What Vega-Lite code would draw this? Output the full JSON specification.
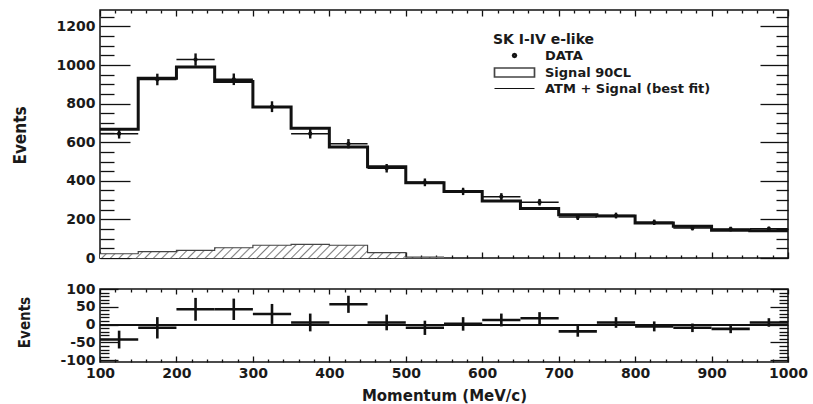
{
  "$schema": "https://vega.github.io/schema/vega-lite/v6.json",
  "background": "white",
  "padding": {"left": 10, "top": 8, "right": 0, "bottom": 0},
  "bounds": "flush",
  "spacing": 31,
  "config": {
    "view": {"stroke": "#111", "strokeWidth": 1.5},
    "axis": {
      "domain": false,
      "grid": false,
      "labelFont": "DejaVu Sans",
      "labelFontWeight": "bold",
      "labelFontSize": 14,
      "labelColor": "#1a1a1a",
      "labelFlush": false,
      "labelOverlap": false,
      "tickColor": "#111",
      "tickWidth": 1.3,
      "titleColor": "#1a1a1a"
    }
  },
  "datasets": {
    "bins": [
      {"lo": 100, "hi": 150, "c": 125, "n": 644, "err": 25, "mc": 667, "sig": 22, "res": -42},
      {"lo": 150, "hi": 200, "c": 175, "n": 925, "err": 30, "mc": 931, "sig": 33, "res": -9},
      {"lo": 200, "hi": 250, "c": 225, "n": 1028, "err": 32, "mc": 990, "sig": 40, "res": 43},
      {"lo": 250, "hi": 300, "c": 275, "n": 926, "err": 30, "mc": 914, "sig": 53, "res": 43},
      {"lo": 300, "hi": 350, "c": 325, "n": 784, "err": 28, "mc": 782, "sig": 66, "res": 30},
      {"lo": 350, "hi": 400, "c": 375, "n": 644, "err": 25, "mc": 672, "sig": 71, "res": 6},
      {"lo": 400, "hi": 450, "c": 425, "n": 592, "err": 24, "mc": 575, "sig": 66, "res": 57},
      {"lo": 450, "hi": 500, "c": 475, "n": 465, "err": 22, "mc": 473, "sig": 28, "res": 6},
      {"lo": 500, "hi": 550, "c": 525, "n": 392, "err": 20, "mc": 390, "sig": 5, "res": -9},
      {"lo": 550, "hi": 600, "c": 575, "n": 345, "err": 19, "mc": 344, "sig": 0, "res": 2},
      {"lo": 600, "hi": 650, "c": 625, "n": 318, "err": 18, "mc": 295, "sig": 0, "res": 13},
      {"lo": 650, "hi": 700, "c": 675, "n": 289, "err": 17, "mc": 257, "sig": 0, "res": 18},
      {"lo": 700, "hi": 750, "c": 725, "n": 212, "err": 15, "mc": 224, "sig": 0, "res": -19},
      {"lo": 750, "hi": 800, "c": 775, "n": 220, "err": 15, "mc": 218, "sig": 0, "res": 6},
      {"lo": 800, "hi": 850, "c": 825, "n": 185, "err": 14, "mc": 181, "sig": 0, "res": -5},
      {"lo": 850, "hi": 900, "c": 875, "n": 155, "err": 12, "mc": 164, "sig": 0, "res": -9},
      {"lo": 900, "hi": 950, "c": 925, "n": 150, "err": 12, "mc": 144, "sig": 0, "res": -12},
      {"lo": 950, "hi": 1000, "c": 975, "n": 151, "err": 12, "mc": 141, "sig": 0, "res": 6}
    ],
    "series": [
      {"series": "DATA"},
      {"series": "Signal 90CL"},
      {"series": "ATM + Signal (best fit)"}
    ]
  },
  "vconcat": [
    {
      "width": 688,
      "height": 248,
      "data": {"name": "bins"},
      "layer": [
        {
          "transform": [{"filter": "datum.sig > 0"}, {"fold": ["lo", "hi"], "as": ["edge", "x"]}],
          "mark": {
            "type": "area",
            "fill": {
              "gradient": "linear", "x1": 0, "y1": 0, "x2": 1, "y2": 0.04,
              "stops": [
                {"offset": 0, "color": "#fff"}, {"offset": 0.0163, "color": "#fff"}, {"offset": 0.0205, "color": "#808080"},
                {"offset": 0.025, "color": "#fff"}, {"offset": 0.0413, "color": "#fff"}, {"offset": 0.0455, "color": "#808080"},
                {"offset": 0.05, "color": "#fff"}, {"offset": 0.0663, "color": "#fff"}, {"offset": 0.0705, "color": "#808080"},
                {"offset": 0.075, "color": "#fff"}, {"offset": 0.0913, "color": "#fff"}, {"offset": 0.0955, "color": "#808080"},
                {"offset": 0.1, "color": "#fff"}, {"offset": 0.1163, "color": "#fff"}, {"offset": 0.1205, "color": "#808080"},
                {"offset": 0.125, "color": "#fff"}, {"offset": 0.1413, "color": "#fff"}, {"offset": 0.1455, "color": "#808080"},
                {"offset": 0.15, "color": "#fff"}, {"offset": 0.1663, "color": "#fff"}, {"offset": 0.1705, "color": "#808080"},
                {"offset": 0.175, "color": "#fff"}, {"offset": 0.1913, "color": "#fff"}, {"offset": 0.1955, "color": "#808080"},
                {"offset": 0.2, "color": "#fff"}, {"offset": 0.2163, "color": "#fff"}, {"offset": 0.2205, "color": "#808080"},
                {"offset": 0.225, "color": "#fff"}, {"offset": 0.2413, "color": "#fff"}, {"offset": 0.2455, "color": "#808080"},
                {"offset": 0.25, "color": "#fff"}, {"offset": 0.2663, "color": "#fff"}, {"offset": 0.2705, "color": "#808080"},
                {"offset": 0.275, "color": "#fff"}, {"offset": 0.2913, "color": "#fff"}, {"offset": 0.2955, "color": "#808080"},
                {"offset": 0.3, "color": "#fff"}, {"offset": 0.3163, "color": "#fff"}, {"offset": 0.3205, "color": "#808080"},
                {"offset": 0.325, "color": "#fff"}, {"offset": 0.3413, "color": "#fff"}, {"offset": 0.3455, "color": "#808080"},
                {"offset": 0.35, "color": "#fff"}, {"offset": 0.3663, "color": "#fff"}, {"offset": 0.3705, "color": "#808080"},
                {"offset": 0.375, "color": "#fff"}, {"offset": 0.3913, "color": "#fff"}, {"offset": 0.3955, "color": "#808080"},
                {"offset": 0.4, "color": "#fff"}, {"offset": 0.4163, "color": "#fff"}, {"offset": 0.4205, "color": "#808080"},
                {"offset": 0.425, "color": "#fff"}, {"offset": 0.4413, "color": "#fff"}, {"offset": 0.4455, "color": "#808080"},
                {"offset": 0.45, "color": "#fff"}, {"offset": 0.4663, "color": "#fff"}, {"offset": 0.4705, "color": "#808080"},
                {"offset": 0.475, "color": "#fff"}, {"offset": 0.4913, "color": "#fff"}, {"offset": 0.4955, "color": "#808080"},
                {"offset": 0.5, "color": "#fff"}, {"offset": 0.5163, "color": "#fff"}, {"offset": 0.5205, "color": "#808080"},
                {"offset": 0.525, "color": "#fff"}, {"offset": 0.5413, "color": "#fff"}, {"offset": 0.5455, "color": "#808080"},
                {"offset": 0.55, "color": "#fff"}, {"offset": 0.5663, "color": "#fff"}, {"offset": 0.5705, "color": "#808080"},
                {"offset": 0.575, "color": "#fff"}, {"offset": 0.5913, "color": "#fff"}, {"offset": 0.5955, "color": "#808080"},
                {"offset": 0.6, "color": "#fff"}, {"offset": 0.6163, "color": "#fff"}, {"offset": 0.6205, "color": "#808080"},
                {"offset": 0.625, "color": "#fff"}, {"offset": 0.6413, "color": "#fff"}, {"offset": 0.6455, "color": "#808080"},
                {"offset": 0.65, "color": "#fff"}, {"offset": 0.6663, "color": "#fff"}, {"offset": 0.6705, "color": "#808080"},
                {"offset": 0.675, "color": "#fff"}, {"offset": 0.6913, "color": "#fff"}, {"offset": 0.6955, "color": "#808080"},
                {"offset": 0.7, "color": "#fff"}, {"offset": 0.7163, "color": "#fff"}, {"offset": 0.7205, "color": "#808080"},
                {"offset": 0.725, "color": "#fff"}, {"offset": 0.7413, "color": "#fff"}, {"offset": 0.7455, "color": "#808080"},
                {"offset": 0.75, "color": "#fff"}, {"offset": 0.7663, "color": "#fff"}, {"offset": 0.7705, "color": "#808080"},
                {"offset": 0.775, "color": "#fff"}, {"offset": 0.7913, "color": "#fff"}, {"offset": 0.7955, "color": "#808080"},
                {"offset": 0.8, "color": "#fff"}, {"offset": 0.8163, "color": "#fff"}, {"offset": 0.8205, "color": "#808080"},
                {"offset": 0.825, "color": "#fff"}, {"offset": 0.8413, "color": "#fff"}, {"offset": 0.8455, "color": "#808080"},
                {"offset": 0.85, "color": "#fff"}, {"offset": 0.8663, "color": "#fff"}, {"offset": 0.8705, "color": "#808080"},
                {"offset": 0.875, "color": "#fff"}, {"offset": 0.8913, "color": "#fff"}, {"offset": 0.8955, "color": "#808080"},
                {"offset": 0.9, "color": "#fff"}, {"offset": 0.9163, "color": "#fff"}, {"offset": 0.9205, "color": "#808080"},
                {"offset": 0.925, "color": "#fff"}, {"offset": 0.9413, "color": "#fff"}, {"offset": 0.9455, "color": "#808080"},
                {"offset": 0.95, "color": "#fff"}, {"offset": 0.9663, "color": "#fff"}, {"offset": 0.9705, "color": "#808080"},
                {"offset": 0.975, "color": "#fff"}, {"offset": 0.9913, "color": "#fff"}, {"offset": 0.9955, "color": "#808080"},
                {"offset": 1, "color": "#fff"}
              ]
            }
          },
          "encoding": {
            "x": {
              "field": "x", "type": "quantitative",
              "scale": {"domain": [100, 1000], "nice": false, "zero": false},
              "axis": {
                "orient": "bottom", "title": null, "labels": false,
                "values": [100,120,140,160,180,200,220,240,260,280,300,320,340,360,380,400,420,440,460,480,500,520,540,560,580,600,620,640,660,680,700,720,740,760,780,800,820,840,860,880,900,920,940,960,980,1000],
                "tickSize": {"condition": {"test": "datum.value % 100 === 0", "value": -6}, "value": -3}
              }
            },
            "y": {
              "field": "sig", "type": "quantitative", "stack": null,
              "scale": {"domain": [0, 1285], "nice": false, "zero": false},
              "axis": {
                "orient": "left",
                "values": [0,50,100,150,200,250,300,350,400,450,500,550,600,650,700,750,800,850,900,950,1000,1050,1100,1150,1200,1250],
                "labelExpr": "datum.value % 200 === 0 ? datum.label : ''",
                "format": "d",
                "tickSize": {"condition": {"test": "datum.value % 200 === 0", "value": -30}, "value": -14},
                "labelPadding": 35,
                "title": "Events",
                "titleFont": "Liberation Sans Narrow, DejaVu Sans Condensed, Liberation Sans",
                "titleFontSize": 17,
                "titleFontWeight": "bold",
                "titleAngle": 270,
                "titleX": -80,
                "titleY": 125,
                "titleAlign": "center",
                "titleBaseline": "middle"
              }
            },
            "order": [{"field": "c", "type": "quantitative"}, {"field": "edge", "type": "ordinal", "sort": "descending"}]
          }
        },
        {
          "transform": [{"filter": "datum.sig > 0"}, {"fold": ["lo", "hi"], "as": ["edge", "x"]}],
          "mark": {"type": "line", "stroke": "#444", "strokeWidth": 1.2, "strokeJoin": "miter"},
          "encoding": {
            "x": {"field": "x", "type": "quantitative", "axis": null},
            "y": {"field": "sig", "type": "quantitative", "axis": null},
            "order": [{"field": "c", "type": "quantitative"}, {"field": "edge", "type": "ordinal", "sort": "descending"}]
          }
        },
        {
          "transform": [{"fold": ["lo", "hi"], "as": ["edge", "x"]}],
          "mark": {"type": "line", "stroke": "#111", "strokeWidth": 3, "strokeJoin": "miter"},
          "encoding": {
            "x": {
              "field": "x", "type": "quantitative",
              "axis": {
                "orient": "top", "title": null, "labels": false,
                "values": [100,120,140,160,180,200,220,240,260,280,300,320,340,360,380,400,420,440,460,480,500,520,540,560,580,600,620,640,660,680,700,720,740,760,780,800,820,840,860,880,900,920,940,960,980,1000],
                "tickSize": {"condition": {"test": "datum.value % 100 === 0", "value": -6}, "value": -3}
              }
            },
            "y": {
              "field": "mc", "type": "quantitative",
              "axis": {
                "orient": "right", "title": null, "labels": false,
                "values": [0,50,100,150,200,250,300,350,400,450,500,550,600,650,700,750,800,850,900,950,1000,1050,1100,1150,1200,1250],
                "tickSize": {"condition": {"test": "datum.value % 200 === 0", "value": -28}, "value": -12}
              }
            },
            "order": [{"field": "c", "type": "quantitative"}, {"field": "edge", "type": "ordinal", "sort": "descending"}]
          }
        },
        {
          "mark": {"type": "errorbar", "thickness": 2.4, "color": "#111"},
          "encoding": {
            "x": {"field": "c", "type": "quantitative", "axis": null},
            "y": {"field": "n", "type": "quantitative", "axis": null},
            "yError": {"field": "err"}
          }
        },
        {
          "mark": {"type": "rule", "stroke": "#111", "strokeWidth": 1.5},
          "encoding": {
            "x": {"field": "lo", "type": "quantitative", "axis": null},
            "x2": {"field": "hi"},
            "y": {"field": "n", "type": "quantitative", "axis": null}
          }
        },
        {
          "mark": {"type": "point", "filled": true, "color": "#111", "size": 18, "opacity": 1},
          "encoding": {
            "x": {"field": "c", "type": "quantitative", "axis": null},
            "y": {"field": "n", "type": "quantitative", "axis": null}
          }
        },
        {
          "data": {"name": "series"},
          "mark": {"type": "point", "opacity": 0},
          "encoding": {
            "shape": {
              "field": "series", "type": "nominal",
              "scale": {
                "domain": ["DATA", "Signal 90CL", "ATM + Signal (best fit)"],
                "range": [
                  "M-0.3,0L-0.21,-0.21L0,-0.3L0.21,-0.21L0.3,0L0.21,0.21L0,0.3L-0.21,0.21Z",
                  "M-4,-0.9H4V0.9H-4Z",
                  "M-4,0H4"
                ]
              },
              "legend": {
                "orient": "none",
                "legendX": 393,
                "legendY": 23,
                "padding": 0,
                "title": "SK I-IV e-like",
                "titleFont": "DejaVu Sans",
                "titleFontSize": 14,
                "titleFontWeight": "bold",
                "titleColor": "#1a1a1a",
                "titlePadding": 2,
                "titleAnchor": "start",
                "labelFont": "DejaVu Sans",
                "labelFontSize": 13,
                "labelFontWeight": "bold",
                "labelColor": "#1a1a1a",
                "labelLimit": 400,
                "labelOffset": 24,
                "rowPadding": 1,
                "symbolSize": 100,
                "symbolOffset": 15
              }
            },
            "fill": {
              "field": "series", "type": "nominal",
              "scale": {
                "domain": ["DATA", "Signal 90CL", "ATM + Signal (best fit)"],
                "range": [
                  "#111",
                  {"expr": "{gradient: 'linear', x1: 0, y1: 0, x2: 1, y2: 0.225, stops: [{offset: 0, color: '#fff'}, {offset: 0.13, color: '#fff'}, {offset: 0.164, color: '#808080'}, {offset: 0.2, color: '#fff'}, {offset: 0.33, color: '#fff'}, {offset: 0.364, color: '#808080'}, {offset: 0.4, color: '#fff'}, {offset: 0.53, color: '#fff'}, {offset: 0.564, color: '#808080'}, {offset: 0.6, color: '#fff'}, {offset: 0.73, color: '#fff'}, {offset: 0.764, color: '#808080'}, {offset: 0.8, color: '#fff'}, {offset: 0.93, color: '#fff'}, {offset: 0.964, color: '#808080'}, {offset: 1, color: '#fff'}]}"},
                  "transparent"
                ]
              }
            },
            "stroke": {
              "field": "series", "type": "nominal",
              "scale": {
                "domain": ["DATA", "Signal 90CL", "ATM + Signal (best fit)"],
                "range": ["#111", "#444", "#111"]
              }
            },
            "strokeWidth": {
              "field": "series", "type": "ordinal",
              "scale": {
                "domain": ["DATA", "Signal 90CL", "ATM + Signal (best fit)"],
                "range": [2.4, 1, 2.5]
              }
            }
          }
        }
      ]
    },
    {
      "width": 688,
      "height": 73,
      "data": {"name": "bins"},
      "layer": [
        {
          "mark": {"type": "rule", "stroke": "#111", "strokeWidth": 1.2},
          "encoding": {
            "y": {"datum": 0, "type": "quantitative", "scale": {"domain": [-105, 100], "nice": false, "zero": false}, "axis": null}
          }
        },
        {
          "mark": {"type": "errorbar", "thickness": 2.6, "color": "#111"},
          "encoding": {
            "x": {
              "field": "c", "type": "quantitative",
              "scale": {"domain": [100, 1000], "nice": false, "zero": false},
              "axis": {
                "orient": "bottom",
                "values": [100,120,140,160,180,200,220,240,260,280,300,320,340,360,380,400,420,440,460,480,500,520,540,560,580,600,620,640,660,680,700,720,740,760,780,800,820,840,860,880,900,920,940,960,980,1000],
                "format": "d",
                "labelExpr": "datum.value % 100 === 0 ? datum.label : ''",
                "tickSize": {"condition": {"test": "datum.value % 100 === 0", "value": -6}, "value": -3},
                "labelPadding": 10,
                "title": "Momentum (MeV/c)",
                "titleFont": "DejaVu Sans",
                "titleFontSize": 15,
                "titleFontWeight": "bold",
                "titleY": 33,
                "titleBaseline": "middle"
              }
            },
            "y": {
              "field": "res", "type": "quantitative",
              "scale": {"domain": [-105, 100], "nice": false, "zero": false},
              "axis": {
                "orient": "left",
                "values": [-100,-90,-80,-70,-60,-50,-40,-30,-20,-10,0,10,20,30,40,50,60,70,80,90,100],
                "labelExpr": "datum.value % 50 === 0 ? '' + datum.value : ''",
                "tickSize": {"condition": {"test": "datum.value % 50 === 0", "value": -18}, "value": -9},
                "labelPadding": 23,
                "title": "Events",
                "titleFont": "Liberation Sans Narrow, DejaVu Sans Condensed, Liberation Sans",
                "titleFontSize": 15,
                "titleFontWeight": "bold",
                "titleAngle": 270,
                "titleX": -76,
                "titleY": 33,
                "titleAlign": "center",
                "titleBaseline": "middle"
              }
            },
            "yError": {"field": "err"}
          }
        },
        {
          "mark": {"type": "rule", "stroke": "#111", "strokeWidth": 2.6},
          "encoding": {
            "x": {
              "field": "lo", "type": "quantitative",
              "axis": {
                "orient": "top", "title": null, "labels": false,
                "values": [100,120,140,160,180,200,220,240,260,280,300,320,340,360,380,400,420,440,460,480,500,520,540,560,580,600,620,640,660,680,700,720,740,760,780,800,820,840,860,880,900,920,940,960,980,1000],
                "tickSize": {"condition": {"test": "datum.value % 100 === 0", "value": -5}, "value": -3}
              }
            },
            "x2": {"field": "hi"},
            "y": {
              "field": "res", "type": "quantitative",
              "axis": {
                "orient": "right", "title": null, "labels": false,
                "values": [-100,-90,-80,-70,-60,-50,-40,-30,-20,-10,0,10,20,30,40,50,60,70,80,90,100],
                "tickSize": {"condition": {"test": "datum.value % 50 === 0", "value": -18}, "value": -9}
              }
            }
          }
        }
      ]
    }
  ]
}
